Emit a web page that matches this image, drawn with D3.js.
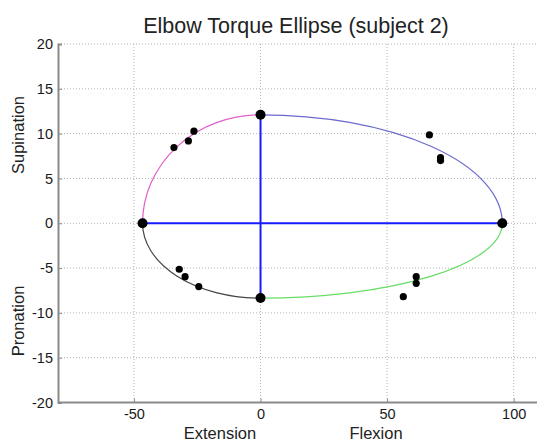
<!DOCTYPE html>
<html><head><meta charset="utf-8">
<script src="https://cdn.jsdelivr.net/npm/d3@7"></script>
<style>body{margin:0;background:#fff;}svg{display:block;font-family:"Liberation Sans",Arial,sans-serif;}</style>
</head><body>
<script>
// Data
const xTicks = [-50, 0, 50, 100];
const yTicks = [-20, -15, -10, -5, 0, 5, 10, 15, 20];
// Ellipse extremes: [extension, flexion, supination, pronation]
const extremeX = [-46.6, 95.5, 0, 0];
const extremeY = [0, 0, 12.1, -8.35];
// measured points
const ptsX = [-34.2, -28.5, -26.3, 66.7, 71.1, 71.1, 61.5, 61.5, 56.4, -32.1, -29.8, -24.4];
const ptsY = [8.44, 9.18, 10.27, 9.85, 7.32, 6.99, -5.96, -6.7, -8.19, -5.13, -5.96, -7.07];
const quadrantColors = ["#e060cc", "#6a6ad0", "#66dd66", "#454545"];

const W = 537, H = 441;
const svg = d3.select("body").append("svg").attr("width", W).attr("height", H);
const x = d3.scaleLinear().domain([-80, 110]).range([58, 539]);
const y = d3.scaleLinear().domain([-20, 20]).range([402.5, 44]);

// grid
const g = svg.append("g");
g.selectAll(".vg").data(xTicks).enter().append("line")
  .attr("x1", d => x(d)).attr("x2", d => x(d)).attr("y1", y(20)).attr("y2", y(-20))
  .attr("stroke", "#b4b4b4").attr("stroke-width", 1).attr("stroke-dasharray", "1,2");
g.selectAll(".hg").data(yTicks).enter().append("line")
  .attr("x1", x(-80)).attr("x2", W).attr("y1", d => y(d)).attr("y2", d => y(d))
  .attr("stroke", "#b4b4b4").attr("stroke-width", 1).attr("stroke-dasharray", "1,2");

// axes
const fmt = d => String(d);
const xAxis = d3.axisBottom(x).tickValues(xTicks).tickFormat(fmt).tickSize(-4).tickPadding(6);
const yAxis = d3.axisLeft(y).tickValues(yTicks).tickFormat(fmt).tickSize(-4).tickPadding(5);
const gx = svg.append("g").attr("transform", `translate(0,${y(-20)})`).call(xAxis);
const gy = svg.append("g").attr("transform", `translate(${x(-80)},0)`).call(yAxis);
[gx, gy].forEach(a => {
  a.select(".domain").attr("stroke", "#8a8a8a").attr("stroke-width", 2);
  a.selectAll(".tick line").attr("stroke", "#8a8a8a");
  a.selectAll("text").attr("fill", "#1a1a1a").style("font-size", "14.5px");
});
gx.select(".domain").attr("d", `M${x(-80)},0H${W}`);

// ellipse quarter arcs
const cx = x(0), cy = y(0);
const L = x(extremeX[0]), R = x(extremeX[1]), T = y(extremeY[2]), B = y(extremeY[3]);
const arcs = [
  `M${L},${cy}A${cx - L},${cy - T} 0 0 1 ${cx},${T}`,
  `M${cx},${T}A${R - cx},${cy - T} 0 0 1 ${R},${cy}`,
  `M${R},${cy}A${R - cx},${B - cy} 0 0 1 ${cx},${B}`,
  `M${cx},${B}A${cx - L},${B - cy} 0 0 1 ${L},${cy}`
];
svg.selectAll(".arc").data(arcs).enter().append("path")
  .attr("d", d => d).attr("fill", "none")
  .attr("stroke", (d, i) => quadrantColors[i]).attr("stroke-width", 1.2);

// axes of ellipse
svg.append("line").attr("x1", L).attr("x2", R).attr("y1", cy).attr("y2", cy)
  .attr("stroke", "#1a1aff").attr("stroke-width", 2);
svg.append("line").attr("x1", cx).attr("x2", cx).attr("y1", T).attr("y2", B)
  .attr("stroke", "#1a1aff").attr("stroke-width", 2);

// extreme markers
svg.selectAll(".ext").data(extremeX).enter().append("circle")
  .attr("cx", d => x(d)).attr("cy", (d, i) => y(extremeY[i])).attr("r", 5).attr("fill", "#000");
// data points
svg.selectAll(".pt").data(ptsX).enter().append("circle")
  .attr("cx", d => x(d)).attr("cy", (d, i) => y(ptsY[i])).attr("r", 3.6).attr("fill", "#000");

// texts
svg.append("text").attr("x", 296).attr("y", 33).attr("text-anchor", "middle")
  .style("font-size", "21.5px").attr("fill", "#222").text("Elbow Torque Ellipse (subject 2)");
svg.append("text").attr("x", 220).attr("y", 439).attr("text-anchor", "middle")
  .style("font-size", "16.5px").attr("fill", "#222").text("Extension");
svg.append("text").attr("x", 376).attr("y", 439).attr("text-anchor", "middle")
  .style("font-size", "16.5px").attr("fill", "#222").text("Flexion");
svg.append("text").attr("transform", "translate(24,135) rotate(-90)").attr("text-anchor", "middle")
  .style("font-size", "16.5px").attr("fill", "#222").text("Supination");
svg.append("text").attr("transform", "translate(24,321) rotate(-90)").attr("text-anchor", "middle")
  .style("font-size", "16.5px").attr("fill", "#222").text("Pronation");
</script>
</body></html>
